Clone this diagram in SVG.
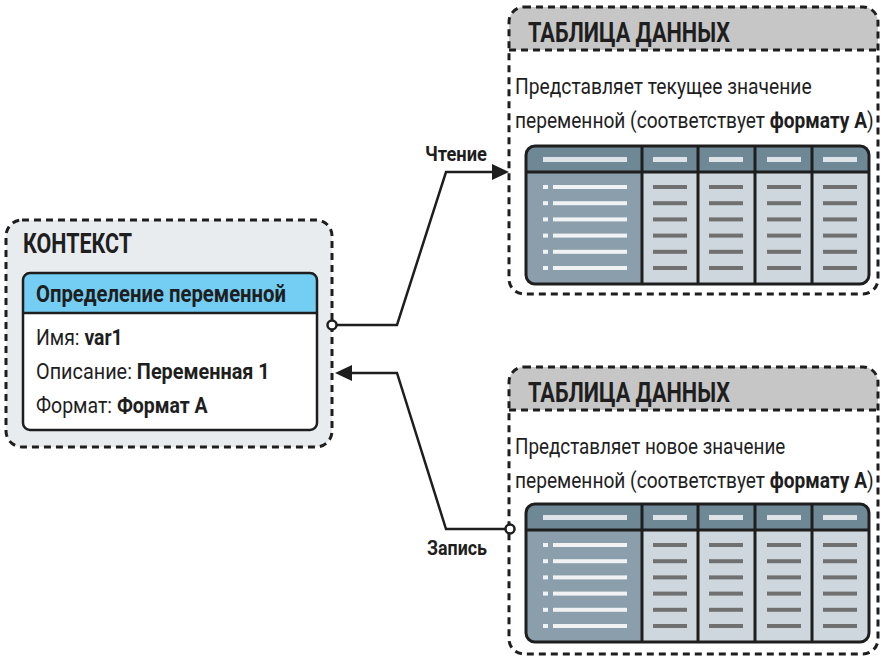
<svg xmlns="http://www.w3.org/2000/svg" xmlns:xlink="http://www.w3.org/1999/xlink" width="881" height="659" viewBox="0 0 881 659">
<style>
text{font-family:"Liberation Sans Narrow","Roboto","Liberation Sans",sans-serif;fill:#1e1e1e}
.b{font-weight:bold}
.title{font-size:27px;font-weight:bold}
.t{font-size:22.5px}
.lbl{font-size:20px;font-weight:bold}
.dash{fill:none;stroke:#1e1e1e;stroke-width:3;stroke-dasharray:7 5}
.conn{fill:none;stroke:#1e1e1e;stroke-width:2.5}
.tb{fill:none;stroke:#1e1e1e;stroke-width:3}
.hb{fill:#dde3e6}
.lb{fill:#f0f2f3}
.db{fill:#707070}
</style>
<defs>
<g id="tbl">
<rect x="526" y="146" width="343" height="138" rx="9" fill="#ced7dd"/>
<path d="M526,172 V155 a9,9 0 0 1 9,-9 H860 a9,9 0 0 1 9,9 V172 Z" fill="#6f8896"/>
<path d="M526,172 H642 V284 H535 a9,9 0 0 1 -9,-9 Z" fill="#8a9fab"/>
<rect x="543" y="157" width="84" height="5" class="hb"/>
<rect x="653" y="157" width="34" height="5" class="hb"/>
<rect x="709" y="157" width="34" height="5" class="hb"/>
<rect x="767" y="157" width="34" height="5" class="hb"/>
<rect x="823" y="157" width="34" height="5" class="hb"/>
<g id="row">
<rect x="543" y="185" width="5" height="4" class="lb"/>
<rect x="553" y="185" width="74" height="4" class="lb"/>
<rect x="653" y="185" width="34" height="4" class="db"/>
<rect x="709" y="185" width="34" height="4" class="db"/>
<rect x="767" y="185" width="34" height="4" class="db"/>
<rect x="823" y="185" width="34" height="4" class="db"/>
</g>
<use xlink:href="#row" y="16.2"/>
<use xlink:href="#row" y="32.4"/>
<use xlink:href="#row" y="48.6"/>
<use xlink:href="#row" y="64.8"/>
<use xlink:href="#row" y="81"/>
<rect x="526" y="146" width="343" height="138" rx="9" class="tb"/>
<path d="M526,172 H869 M642,146 V284 M698,146 V284 M755,146 V284 M812,146 V284" class="tb"/>
</g>
</defs>

<g id="context">
<rect x="6" y="220" width="326" height="227" rx="16" class="dash" style="fill:#e9ecef"/>
<text x="23" y="253" class="title" textLength="109" lengthAdjust="spacingAndGlyphs">КОНТЕКСТ</text>
</g>

<g id="variable-definition">
<rect x="23" y="273" width="294" height="157" rx="7" fill="#ffffff"/>
<path d="M23,313 V280 a7,7 0 0 1 7,-7 H310 a7,7 0 0 1 7,7 V313 Z" fill="#74cdf3"/>
<rect x="23" y="273" width="294" height="157" rx="7" fill="none" stroke="#1e1e1e" stroke-width="2.5"/>
<line x1="23" y1="313" x2="317" y2="313" stroke="#1e1e1e" stroke-width="2.5"/>
<text x="36" y="302" class="b" style="font-size:23px" textLength="250" lengthAdjust="spacingAndGlyphs">Определение переменной</text>
<text transform="translate(36,345) scale(0.85,1)" x="0" y="0" class="t" textLength="102" lengthAdjust="spacingAndGlyphs">Имя: <tspan class="b">var1</tspan></text>
<text transform="translate(36,379) scale(0.85,1)" x="0" y="0" class="t" textLength="275" lengthAdjust="spacingAndGlyphs">Описание: <tspan class="b">Переменная 1</tspan></text>
<text transform="translate(36,413) scale(0.85,1)" x="0" y="0" class="t" textLength="202" lengthAdjust="spacingAndGlyphs">Формат: <tspan class="b">Формат А</tspan></text>
</g>

<g id="table-read">
<rect x="509" y="7" width="369" height="287" rx="15" fill="#ffffff"/>
<path d="M509,50 V22 a15,15 0 0 1 15,-15 H863 a15,15 0 0 1 15,15 V50 Z" fill="#c6c6c6"/>
<rect x="509" y="7" width="369" height="287" rx="15" class="dash"/>
<line x1="509" y1="50" x2="878" y2="50" class="dash"/>
<text x="528" y="42" class="title" textLength="202" lengthAdjust="spacingAndGlyphs">ТАБЛИЦА ДАННЫХ</text>
<text transform="translate(515,94) scale(0.85,1)" x="0" y="0" class="t" textLength="349" lengthAdjust="spacingAndGlyphs">Представляет текущее значение</text>
<text transform="translate(515,128) scale(0.85,1)" x="0" y="0" class="t" textLength="422" lengthAdjust="spacingAndGlyphs">переменной (соответствует <tspan class="b">формату А</tspan>)</text>
<use xlink:href="#tbl"/>
</g>

<g id="table-write">
<rect x="509" y="367" width="369" height="287" rx="15" fill="#ffffff"/>
<path d="M509,410 V382 a15,15 0 0 1 15,-15 H863 a15,15 0 0 1 15,15 V410 Z" fill="#c6c6c6"/>
<rect x="509" y="367" width="369" height="287" rx="15" class="dash"/>
<line x1="509" y1="410" x2="878" y2="410" class="dash"/>
<text x="528" y="402" class="title" textLength="202" lengthAdjust="spacingAndGlyphs">ТАБЛИЦА ДАННЫХ</text>
<text transform="translate(515,454) scale(0.85,1)" x="0" y="0" class="t" textLength="318" lengthAdjust="spacingAndGlyphs">Представляет новое значение</text>
<text transform="translate(515,488) scale(0.85,1)" x="0" y="0" class="t" textLength="422" lengthAdjust="spacingAndGlyphs">переменной (соответствует <tspan class="b">формату А</tspan>)</text>
<use xlink:href="#tbl" y="358"/>
</g>

<g id="connectors">
<path d="M336,325 H397 L446,172 H494" class="conn"/>
<polygon points="509,172 492,164 492,180" fill="#1e1e1e"/>
<circle cx="332" cy="325" r="4.5" fill="#ffffff" stroke="#1e1e1e" stroke-width="2.5"/>
<text x="425" y="161" class="lbl" textLength="62" lengthAdjust="spacingAndGlyphs">Чтение</text>
<path d="M506,529 H446 L397,373 H350" class="conn"/>
<polygon points="335,373 352,365 352,381" fill="#1e1e1e"/>
<circle cx="510" cy="529" r="4.5" fill="#ffffff" stroke="#1e1e1e" stroke-width="2.5"/>
<text x="427" y="555" class="lbl" textLength="60" lengthAdjust="spacingAndGlyphs">Запись</text>
</g>
</svg>
